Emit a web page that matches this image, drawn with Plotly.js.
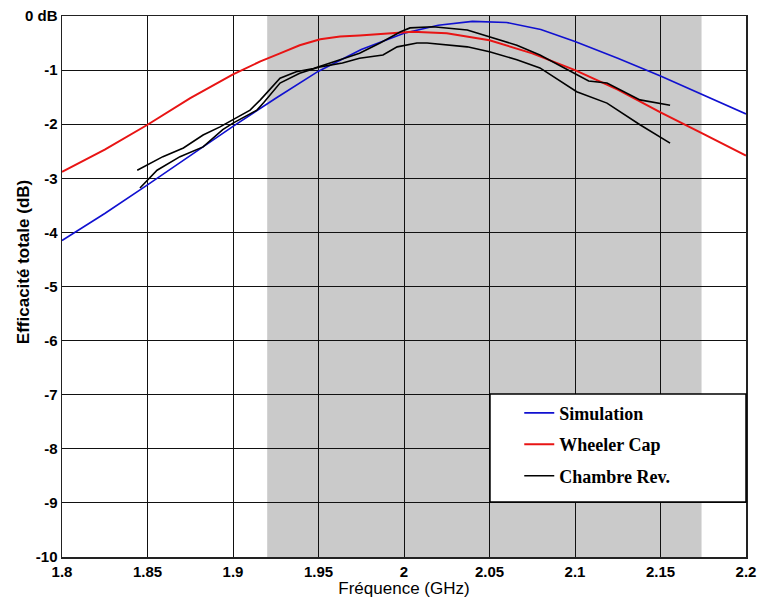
<!DOCTYPE html>
<html>
<head>
<meta charset="utf-8">
<script src="https://cdn.plot.ly/plotly-3.0.1.min.js"></script>
<style>html,body{margin:0;padding:0;background:#fff;}#chart{width:762px;height:602px;}</style>
</head>
<body>
<div id="chart"></div>
<script>
// Simulation
const simFreq = [1.80, 1.825, 1.85, 1.875, 1.90, 1.925, 1.95, 1.975, 2.00, 2.02, 2.04, 2.06, 2.08, 2.10, 2.125, 2.15, 2.175, 2.20];
const simEff  = [-4.15, -3.65, -3.12, -2.58, -2.04, -1.52, -1.02, -0.62, -0.32, -0.17, -0.10, -0.12, -0.25, -0.47, -0.78, -1.11, -1.46, -1.81];
// Wheeler Cap
const whFreq = [1.80, 1.825, 1.85, 1.875, 1.90, 1.916, 1.9275, 1.939, 1.951, 1.9626, 1.974, 1.994, 2.005, 2.025, 2.05, 2.075, 2.10, 2.125, 2.15, 2.175, 2.20];
const whEff  = [-2.88, -2.47, -2.01, -1.52, -1.08, -0.84, -0.69, -0.54, -0.43, -0.38, -0.36, -0.32, -0.29, -0.32, -0.45, -0.69, -1.00, -1.36, -1.78, -2.18, -2.58];
// Chambre Rev. (two measurements)
const rev1Freq = [1.844, 1.859, 1.871, 1.8825, 1.8924, 1.898, 1.91, 1.916, 1.9275, 1.937, 1.947, 1.9626, 1.974, 1.986, 1.998, 2.0035, 2.017, 2.037, 2.050, 2.066, 2.0795, 2.101, 2.108, 2.1187, 2.138, 2.1556];
const rev1Eff  = [-2.85, -2.60, -2.44, -2.20, -2.05, -1.95, -1.74, -1.55, -1.15, -1.03, -0.97, -0.81, -0.69, -0.50, -0.29, -0.22, -0.20, -0.26, -0.38, -0.54, -0.72, -1.09, -1.20, -1.24, -1.55, -1.65];
const rev2Freq = [1.8456, 1.8556, 1.869, 1.8825, 1.894, 1.90, 1.914, 1.918, 1.9275, 1.939, 1.951, 1.964, 1.974, 1.9877, 1.996, 2.0076, 2.0135, 2.027, 2.037, 2.050, 2.066, 2.0795, 2.101, 2.1187, 2.138, 2.1556];
const rev2Eff  = [-3.18, -2.85, -2.60, -2.42, -2.10, -1.98, -1.74, -1.60, -1.24, -1.06, -0.94, -0.87, -0.78, -0.72, -0.57, -0.50, -0.50, -0.54, -0.57, -0.66, -0.81, -0.96, -1.40, -1.61, -2.01, -2.35];
// Band and ticks
const bandStart = 1.92, bandEnd = 2.174;
const xTickVals = [1.8, 1.85, 1.9, 1.95, 2, 2.05, 2.1, 2.15, 2.2];
const xTickText = ['1.8', '1.85', '1.9', '1.95', '2', '2.05', '2.1', '2.15', '2.2'];
const yTickVals = [0, -1, -2, -3, -4, -5, -6, -7, -8, -9, -10];
const yTickText = ['0 dB', '-1', '-2', '-3', '-4', '-5', '-6', '-7', '-8', '-9', '-10'];

const traces = [
  {x: simFreq, y: simEff, mode: 'lines', name: 'Simulation', line: {color: '#1010d0', width: 1.6}, legendgroup: 'a'},
  {x: whFreq, y: whEff, mode: 'lines', name: 'Wheeler Cap', line: {color: '#e81414', width: 2}, legendgroup: 'b'},
  {x: rev1Freq, y: rev1Eff, mode: 'lines', name: 'Chambre Rev.', line: {color: '#000', width: 1.6}, legendgroup: 'c'},
  {x: rev2Freq, y: rev2Eff, mode: 'lines', name: 'Chambre Rev.', line: {color: '#000', width: 1.6}, legendgroup: 'c', showlegend: false}
];

const axisFont = {family: 'Liberation Sans Narrow, Arial Narrow, Liberation Sans, Arial', size: 15, color: '#000', weight: 'bold'};

const layout = {
  width: 762, height: 602,
  margin: {l: 62, r: 16, t: 16, b: 45},
  paper_bgcolor: '#fff', plot_bgcolor: '#fff',
  showlegend: true,
  xaxis: {
    range: [1.8, 2.2], tickvals: xTickVals, ticktext: xTickText,
    showgrid: true, gridcolor: '#111', gridwidth: 1,
    showline: true, linecolor: '#222', linewidth: 1.5, mirror: true,
    ticks: '', tickfont: axisFont, zeroline: false,
    title: {text: 'Fréquence (GHz)', font: {family: 'Liberation Sans, Arial', size: 17, color: '#000'}, standoff: 3}
  },
  yaxis: {
    range: [-10, 0], tickvals: yTickVals, ticktext: yTickText,
    showgrid: true, gridcolor: '#111', gridwidth: 1,
    showline: true, linecolor: '#222', linewidth: 1.5, mirror: true,
    ticks: '', tickfont: axisFont, zeroline: false
  },
  annotations: [
    {text: 'Efficacité totale (dB)', xref: 'paper', yref: 'paper', x: 0, y: 0.545, xshift: -39,
     xanchor: 'center', yanchor: 'middle', textangle: -90, showarrow: false,
     font: {family: 'Liberation Sans, Arial', size: 17, color: '#000', weight: 'bold'}}
  ],
  shapes: [
    {type: 'rect', xref: 'x', yref: 'paper', x0: bandStart, x1: bandEnd, y0: 0, y1: 1,
     fillcolor: '#cacaca', line: {width: 0}, layer: 'below'},
    {type: 'rect', xref: 'paper', yref: 'paper', x0: 0.6257, x1: 1, y0: 0.1017, y1: 0.3013,
     fillcolor: '#fff', line: {color: '#000', width: 1.5}, layer: 'above'}
  ],
  legend: {
    x: 0.6685, y: 0.3, xanchor: 'left', yanchor: 'top',
    bgcolor: 'rgba(0,0,0,0)', borderwidth: 0,
    font: {family: 'Liberation Serif, Times New Roman, serif', size: 18, color: '#000', weight: 'bold'},
    tracegroupgap: 5
  }
};

Plotly.newPlot('chart', traces, layout, {displayModeBar: false, staticPlot: true});
</script>
</body>
</html>
